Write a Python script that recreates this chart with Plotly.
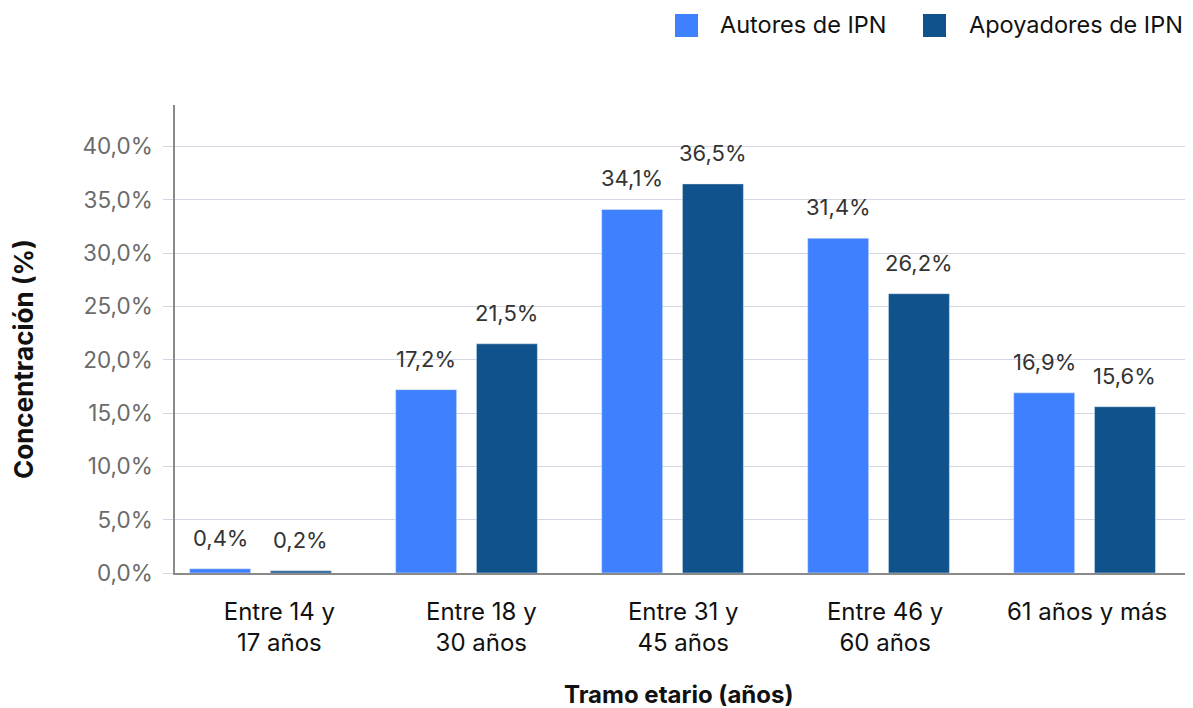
import plotly.graph_objects as go

categories = ["Entre 14 y<br>17 años", "Entre 18 y<br>30 años", "Entre 31 y<br>45 años",
              "Entre 46 y<br>60 años", "61 años y más"]
autores = [0.4, 17.2, 34.1, 31.4, 16.9]
apoyadores = [0.2, 21.5, 36.5, 26.2, 15.6]
series_names = ["Autores de IPN", "Apoyadores de IPN"]
colors = ["#3F80FF", "#0F528C"]
ytick_vals = [0, 5, 10, 15, 20, 25, 30, 35, 40]

FONT = "Inter"
OFF = 8  # page body margin
W, H = 1193 - OFF, 708 - OFF
ML, MR, MT, MB = 175 - OFF, 5, 105 - OFF, 135
PW, PH = W - ML - MR, H - MT - MB

xs = list(range(len(categories)))
bargap = 0.216
bargroupgap = 0.245
slot = (1 - bargap) / 2

fig = go.Figure()
for name, vals, col in zip(series_names, [autores, apoyadores], colors):
    fig.add_trace(go.Bar(x=xs, y=vals, name=name, marker_color=col, showlegend=False,
                         xaxis="x", yaxis="y"))
# invisible helper trace to anchor the category-label axis
fig.add_trace(go.Scatter(x=xs, y=autores, xaxis="x2", yaxis="y", mode="markers",
                         marker=dict(opacity=0), hoverinfo="skip", showlegend=False))

annotations = []
for k, vals in enumerate([autores, apoyadores]):
    off = (k - 0.5) * slot
    for i, v in enumerate(vals):
        annotations.append(dict(
            x=i + off, y=v, xref="x", yref="y", text=f"{v:.1f}%".replace(".", ","),
            showarrow=False, yanchor="middle", yshift=31,
            font=dict(family=FONT, size=22, color="#333333")))

def px_x(p):  # page pixel -> paper
    return (p - OFF - ML) / PW

def px_y(p):
    return (H - MB - (p - OFF)) / PH

# custom legend
leg = [(675, 718, series_names[0], colors[0]), (923, 967, series_names[1], colors[1])]
shapes = []
for sx, tx, name, col in leg:
    shapes.append(dict(type="rect", xref="paper", yref="paper",
                       x0=px_x(sx), x1=px_x(sx + 23), y0=px_y(37), y1=px_y(14),
                       fillcolor=col, line=dict(width=0)))
    annotations.append(dict(x=px_x(tx), y=px_y(25), xref="paper", yref="paper",
                            text=name, showarrow=False, xanchor="left", yanchor="middle",
                            font=dict(family=FONT, size=23.5, color="#111111")))

# axis titles
annotations.append(dict(x=px_x(23), y=px_y(359), xref="paper", yref="paper",
                        text="<b>Concentración (%)</b>", textangle=-90, showarrow=False,
                        xanchor="center", yanchor="middle",
                        font=dict(family=FONT, size=26, color="#111111")))
annotations.append(dict(x=px_x(678), y=px_y(694), xref="paper", yref="paper",
                        text="<b>Tramo etario (años)</b>", showarrow=False,
                        xanchor="center", yanchor="middle",
                        font=dict(family=FONT, size=24, color="#111111")))

fig.update_layout(
    width=W, height=H,
    margin=dict(l=ML, r=MR, t=MT, b=MB),
    paper_bgcolor="white", plot_bgcolor="white",
    barmode="group", bargap=bargap, bargroupgap=bargroupgap,
    font=dict(family=FONT),
    annotations=annotations, shapes=shapes,
    xaxis=dict(
        range=[-0.415, 4.502], tickmode="array", tickvals=xs, showticklabels=False,
        showline=True, linecolor="#8a8a8a", linewidth=1.5, showgrid=False, ticks="",
        zeroline=False,
    ),
    xaxis2=dict(
        range=[-0.517, 4.500], overlaying="x", anchor="y", side="bottom",
        tickmode="array", tickvals=xs, ticktext=categories,
        tickfont=dict(family=FONT, size=24, color="#111111"),
        showline=False, showgrid=False, ticks="", zeroline=False,
        ticklabelstandoff=22,
    ),
    yaxis=dict(
        range=[0, 43.9], tickmode="array", tickvals=ytick_vals,
        ticktext=[f"{v:.1f}%".replace(".", ",") for v in ytick_vals],
        tickfont=dict(family=FONT, size=22.5, color="#6b6b6b"),
        showline=True, linecolor="#8a8a8a", linewidth=1.5,
        showgrid=True, gridcolor="#d5d6e3", gridwidth=1.2,
        ticks="outside", ticklen=10, tickcolor="#d5d6e3", tickwidth=1.2,
        ticklabelstandoff=6,
        zeroline=False,
    ),
)

fig.write_html("out.html")
